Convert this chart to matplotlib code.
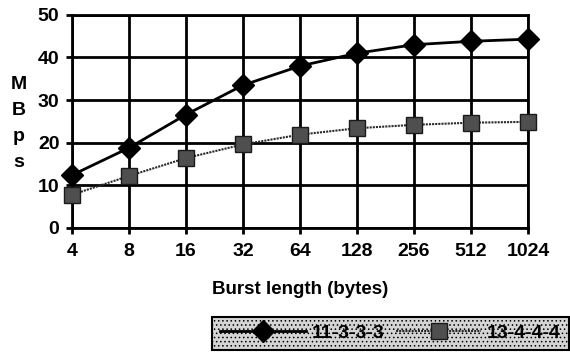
import matplotlib
matplotlib.use("Agg")
import matplotlib.pyplot as plt

# burst length categories and throughput (MBps) for the two timings
burst_labels = ["4", "8", "16", "32", "64", "128", "256", "512", "1024"]
mbps_11_3_3_3 = [12.4, 18.8, 26.6, 33.5, 38.0, 41.0, 43.0, 43.8, 44.3]
mbps_13_4_4_4 = [7.8, 12.2, 16.4, 19.6, 21.9, 23.4, 24.2, 24.7, 24.9]

plt.rcParams["font.family"] = ["Liberation Sans", "DejaVu Sans"]
plt.rcParams["font.weight"] = "bold"
plt.rcParams["hatch.linewidth"] = 0.6

fig = plt.figure(figsize=(5.7, 3.54), dpi=100)
ax = fig.add_axes([0.1263, 0.356, 0.8, 0.602])

xs = list(range(len(burst_labels)))
ax.plot(xs, mbps_11_3_3_3, color="black", lw=2, marker="D", ms=11,
        mfc="black", mec="black", label="11-3-3-3", zorder=4, clip_on=False)
ax.plot(xs, mbps_13_4_4_4, color="#2a2a2a", lw=1.5, ls=(0, (1, 0.5)),
        marker="s", ms=12, mfc="#4f4f4f", mec="#1a1a1a", mew=1,
        label="13-4-4-4", zorder=4, clip_on=False)

ax.set_xlim(0, len(burst_labels) - 1)
ax.set_ylim(0, 50)
ax.set_xticks(xs)
ax.set_xticklabels(burst_labels)
ax.set_yticks([0, 10, 20, 30, 40, 50])
ax.grid(True, color="black", lw=2)
for s in ax.spines.values():
    s.set_linewidth(2)
ax.tick_params(axis="both", labelsize=14, width=2, length=4, direction="out")
ax.tick_params(axis="x", pad=7)
ax.tick_params(axis="y", pad=5)

ax.set_xlabel("Burst length (bytes)", fontsize=13.5, fontweight="bold", labelpad=15)
fig.text(0.033, 0.652, "M\nB\np\ns", fontsize=14, fontweight="bold",
         ha="center", va="center", linespacing=1.7)

leg = fig.legend(loc="lower right", bbox_to_anchor=(0.998, 0.012), ncol=2,
                 fancybox=False, edgecolor="black", framealpha=1,
                 prop={"size": 14, "weight": "bold"}, handlelength=4.4,
                 columnspacing=0.6, handletextpad=0.3, borderpad=0.4,
                 borderaxespad=0)
fr = leg.get_frame()
fr.set_facecolor("#d4d4d4")
fr.set_linewidth(1.5)
fr.set_hatch("....")

plt.savefig("out.png", dpi=100)
